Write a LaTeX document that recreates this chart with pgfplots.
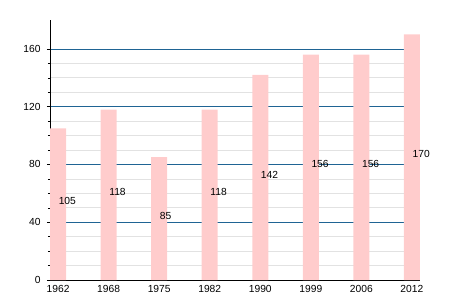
\documentclass[border=0pt]{standalone}
\usepackage{pgfplots}
\pgfplotsset{compat=1.18}
\usepackage{fontspec}
\setmainfont{Liberation Sans}
\definecolor{barpink}{HTML}{FFCCCC}
\definecolor{majgrid}{HTML}{1F6494}
\definecolor{mingrid}{HTML}{E2E2E2}
\begin{document}
\begin{tikzpicture}
\useasboundingbox (-50bp,-20bp) rectangle (400bp,280bp);
\begin{axis}[
  scale only axis,
  width=370bp, height=260bp,
  at={(0,0)}, anchor=south west,
  xmin=-0.16, xmax=7.16,
  ymin=0, ymax=180,
  axis x line*=bottom,
  axis y line*=left,
  axis line style={black, line width=0.8pt, -},
  xtick={0,...,7},
  xticklabels={1962,1968,1975,1982,1990,1999,2006,2012},
  x tick style={draw=none},
  ytick={0,40,80,120,160},
  minor y tick num=3,
  y tick style={black, line width=0.5pt},
  tick align=outside,
  major tick length=3bp,
  minor tick length=2bp,
  ymajorgrids, yminorgrids,
  major grid style={majgrid, line width=0.6pt},
  minor grid style={mingrid, line width=0.6pt},
  tick label style={font=\fontsize{10.3}{12}\selectfont},
  /pgf/number format/assume math mode=true,
  xticklabel style={yshift=1bp},
  yticklabel style={xshift=-3bp},
  clip=false,
]
\addplot[ybar, bar width=16bp, bar shift=0pt, fill=barpink, draw=none] coordinates {
  (0,105) (1,118) (2,85) (3,118) (4,142) (5,156) (6,156) (7,170)
};
\addplot[draw=none, mark=none, nodes near coords, point meta=explicit symbolic,
  every node near coord/.style={anchor=west, inner sep=0.5bp, yshift=3bp, font=\fontsize{10.3}{12}\selectfont, text=black}]
  table[x=x, y expr=\thisrow{v}/2, meta=v] {
x v
0 105
1 118
2 85
3 118
4 142
5 156
6 156
7 170
};
\end{axis}
\end{tikzpicture}
\end{document}
